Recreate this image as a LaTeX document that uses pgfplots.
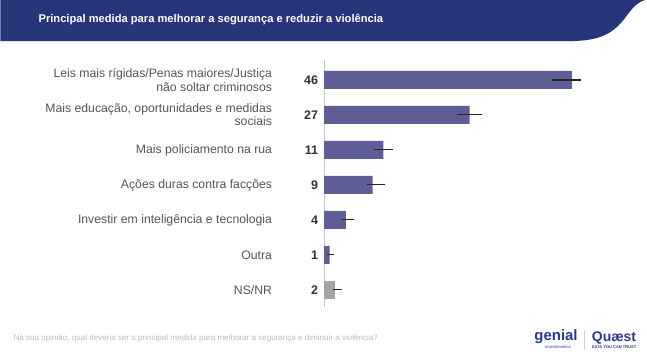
\documentclass[border=0pt]{standalone}
\usepackage{pgfplots}
\pgfplotsset{compat=1.18}
\usepackage{fontspec}
\setmainfont{Liberation Sans}
\definecolor{hdr}{HTML}{27357B}
\definecolor{barc}{HTML}{5E5D95}
\definecolor{nsc}{HTML}{A5A5A5}
\definecolor{labc}{HTML}{555555}
\definecolor{valc}{HTML}{333333}
\definecolor{footc}{HTML}{BDBDBD}
\definecolor{logoc}{HTML}{2B3A8C}
\begin{document}
\begin{tikzpicture}[x=1bp,y=1bp]
\fill[white] (0,0) rectangle (647,361);
% header band
\fill[hdr] (0,361) -- (645,361) .. controls (622,354) and (628,321) .. (574,320) -- (0,320) -- cycle;
\draw[gray!25, line width=0.8bp] (0,319.4) -- (574,319.4);
\node[anchor=west, text=white, font=\bfseries\fontsize{11.2}{13}\selectfont, inner sep=0pt] at (38,341) {Principal medida para melhorar a segurança e reduzir a violência};
\begin{axis}[
  at={(324bp,53.5bp)}, anchor=south west, scale only axis,
  width=300bp, height=247.5bp,
  xmin=0, xmax=55.66, ymin=-0.57, ymax=6.5, y dir=reverse,
  xbar, bar width=18bp, bar shift=0pt,
  axis x line=none, axis y line*=left,
  axis line style={draw=black!22, line width=1.4bp},
  xtick=\empty, major tick length=0pt,
  ytick={0,1,2,3,4,5,6},
  yticklabels={46,27,11,9,4,1,2},
  yticklabel style={font=\bfseries\fontsize{12.5}{14}\selectfont, text=valc, inner sep=0pt, xshift=-6bp},
  extra y ticks={0,1,2,3,4,5,6},
  extra y tick labels={{Leis mais rígidas/Penas maiores/Justiça\\não soltar criminosos},{Mais educação, oportunidades e medidas\\sociais},{Mais policiamento na rua},{Ações duras contra facções},{Investir em inteligência e tecnologia},{Outra},{NS/NR}},
  extra y tick style={yticklabel style={font=\fontsize{12.3}{13.5}\selectfont, text=labc, align=right, xshift=-46bp}},
  clip=false,
]
\addplot[fill=barc, draw=none,
  error bars/.cd, x dir=both, x explicit, error mark=none,
  error bar style={line width=1.2bp, black!85}]
  coordinates {(46,0) += (1.6,0) -= (3.7,0)
               (27,1) += (2.35,0) -= (2.4,0)
               (11,2) += (1.85,0) -= (1.75,0)
               (9,3) += (2.2,0) -= (1.1,0)
               (4,4) += (1.6,0) -= (0.9,0)
               (1,5) += (0.9,0) -= (0.5,0)};
\addplot[fill=nsc, draw=none,
  error bars/.cd, x dir=both, x explicit, error mark=none,
  error bar style={line width=1.2bp, black!85}]
  coordinates {(2,6) += (1.35,0) -= (0.45,0)};
\end{axis}
% footer
\node[anchor=west, text=footc, font=\fontsize{8.1}{9}\selectfont, inner sep=0pt] at (13,22) {Na sua opinião, qual deveria ser a principal medida para melhorar a segurança e diminuir a violência?};
% logos
\node[anchor=base, text=logoc, font=\bfseries\fontsize{15}{15}\selectfont, inner sep=0pt] at (556,20) {genial};
\node[anchor=base, text=logoc, font=\fontsize{4.2}{4}\selectfont, inner sep=0pt] at (558,12) {investimentos};
\draw[black!20, line width=0.5bp] (584,11) -- (584,31);
\node[anchor=base, text=logoc, font=\bfseries\fontsize{14}{14}\selectfont, inner sep=0pt] at (614,19.5) {Quæst};
\node[anchor=base, text=logoc, font=\bfseries\fontsize{4}{4}\selectfont, inner sep=0pt] at (614,12) {DATA YOU CAN TRUST};
\end{tikzpicture}
\end{document}
